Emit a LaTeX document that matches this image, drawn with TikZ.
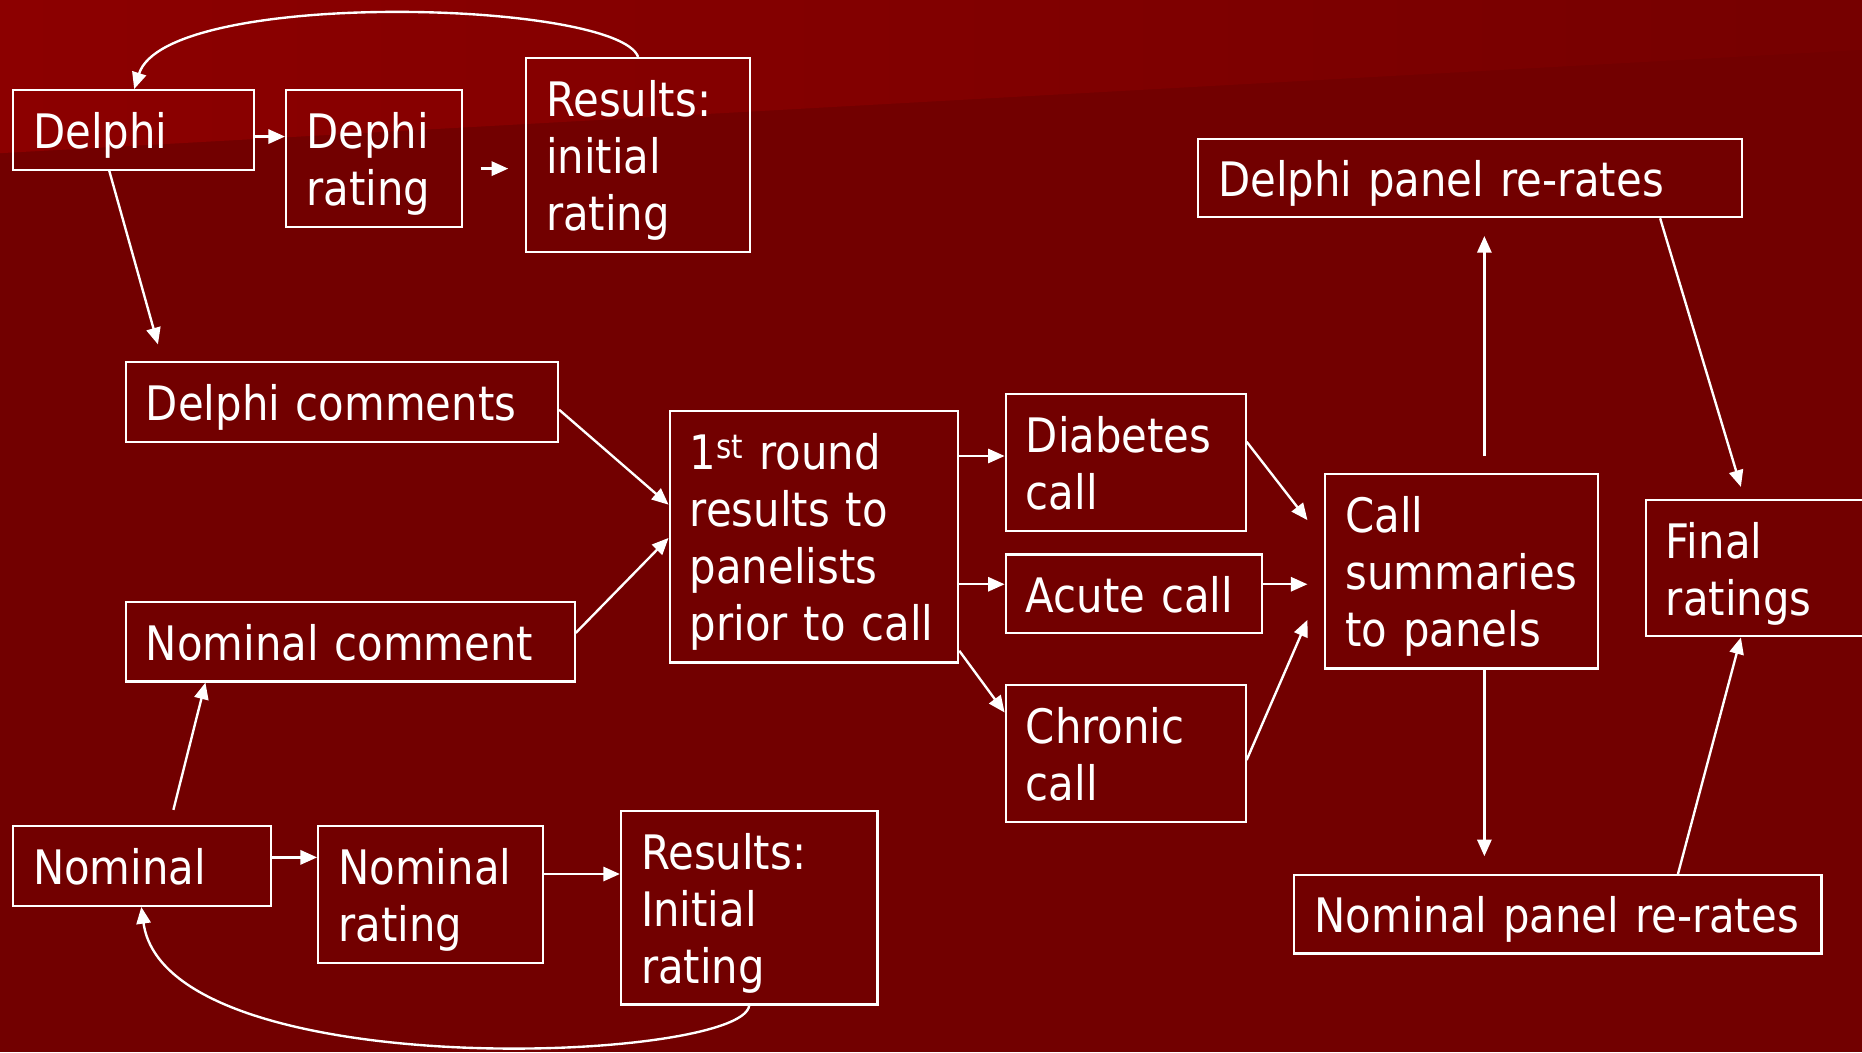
\documentclass[tikz,border=0pt]{standalone}
\usepackage{fontspec}
\newfontfamily\tah{DejaVu Sans}[FakeStretch=0.88]
\usetikzlibrary{arrows.meta,calc}
\definecolor{bgbase}{HTML}{720000}
\definecolor{bgtopl}{HTML}{8C0000}
\definecolor{bgtopr}{HTML}{760000}
\tikzset{
  bx/.style={draw=white, line width=1.8pt, anchor=north west, align=left,
    inner xsep=17pt, inner ysep=0pt, text=white,
    font=\tah\fontsize{40}{48}\selectfont,
    execute at begin node=\rule{0pt}{42pt},
    execute at end node=\rule[-11pt]{0pt}{11pt}},
  arr/.style={draw=white, line width=2pt, -{Triangle[length=14pt,width=12pt]}},
}
\begin{document}
\begin{tikzpicture}[x=1pt,y=-1pt]
\useasboundingbox (0,0) rectangle (1568,886);
\fill[bgbase] (0,0) rectangle (1568,886);
\shade[left color=bgtopl, right color=bgtopr] (0,0) -- (1568,0) -- (1568,42) -- (0,129) -- cycle;
\clip (0,0) rectangle (1568,886);

% boxes
\node[bx, text width=169pt, minimum height=67pt] (delphi) at (10,75) {Delphi};
\node[bx, text width=114pt, minimum height=115pt] (dephi) at (240,75) {Dephi\\rating};
\node[bx, text width=155pt, minimum height=163pt] (res1) at (442,48) {Results:\\initial\\rating};
\node[bx, text width=330pt, minimum height=67pt] (dcom) at (105,304) {Delphi comments};
\node[bx, text width=209pt, minimum height=212pt] (first) at (563,345) {1\textsuperscript{st} round\\results to\\panelists\\\mbox{prior to call}};
\node[bx, text width=344pt, minimum height=67pt] (ncom) at (105,506) {Nominal comment};
\node[bx, text width=168pt, minimum height=115pt] (diab) at (846,331) {Diabetes\\call};
\node[bx, text width=182pt, minimum height=66pt] (acute) at (846,466) {\mbox{Acute call}};
\node[bx, text width=168pt, minimum height=115pt] (chron) at (846,576) {Chronic\\call};
\node[bx, text width=196pt, minimum height=164pt] (calls) at (1115,398) {Call\\\mbox{summaries}\\\mbox{to panels}};
\node[bx, text width=424pt, minimum height=66pt] (dpan) at (1008,116) {Delphi panel re-rates};
\node[bx, text width=166pt, minimum height=115pt] (final) at (1385,420) {Final\\ratings};
\node[bx, text width=410pt, minimum height=66pt] (npan) at (1089,736) {Nominal panel re-rates};
\node[bx, text width=183pt, minimum height=67pt] (nom) at (10,695) {Nominal};
\node[bx, text width=155pt, minimum height=115pt] (nrat) at (267,695) {Nominal\\rating};
\node[bx, text width=182pt, minimum height=163pt] (res2) at (522,682) {Results:\\Initial\\rating};

% connectors
\draw[arr] (delphi.east |- 0,115) -- (dephi.west |- 0,115);
\draw[arr, shorten <=15pt, shorten >=14pt] (dephi.east |- 0,142) -- (res1.west |- 0,142);
\draw[arr] (res1.north) .. controls (520,0) and (140,-10) .. ($(delphi.north west)+(103,0)$);
\draw[arr] ($(delphi.south west)+(82,0)$) -- ($(dcom.north west)+(28,-14)$);
\draw[arr] (dcom.east |- 0,345) -- (first.west |- 0,425);
\draw[arr] (ncom.east |- 0,533) -- (first.west |- 0,453);
\draw[arr] ($(nom.north west)+(136,-13)$) -- ($(ncom.south west)+(68,0)$);
\draw[arr] (nom.east |- 0,722) -- (nrat.west |- 0,722);
\draw[arr] (nrat.east |- 0,736) -- (res2.west |- 0,736);
\draw[arr] (res2.south) .. controls (625,895) and (140,915) .. ($(nom.south west)+(109,0)$);
\draw[arr] (first.east |- 0,384) -- (diab.west |- 0,384);
\draw[arr] (first.east |- 0,492) -- (acute.west |- 0,492);
\draw[arr] (first.east |- 0,548) -- (chron.west |- 0,600);
\draw[arr] (diab.east |- 0,372) -- ($(calls.west |- 0,438)+(-14,0)$);
\draw[arr] (acute.east |- 0,492) -- ($(calls.west |- 0,492)+(-14,0)$);
\draw[arr] (chron.east |- 0,640) -- ($(calls.west |- 0,522)+(-14,0)$);
\draw[arr, shorten <=14pt, shorten >=15pt] (calls.north -| 1250,0) -- (dpan.south -| 1250,0);
\draw[arr, shorten >=15pt] (calls.south -| 1250,0) -- (npan.north -| 1250,0);
\draw[arr] (dpan.south -| 1398,0) -- ($(final.north -| 1466,0)+(0,-10)$);
\draw[arr] (npan.north -| 1413,0) -- (final.south -| 1466,0);
\end{tikzpicture}
\end{document}
